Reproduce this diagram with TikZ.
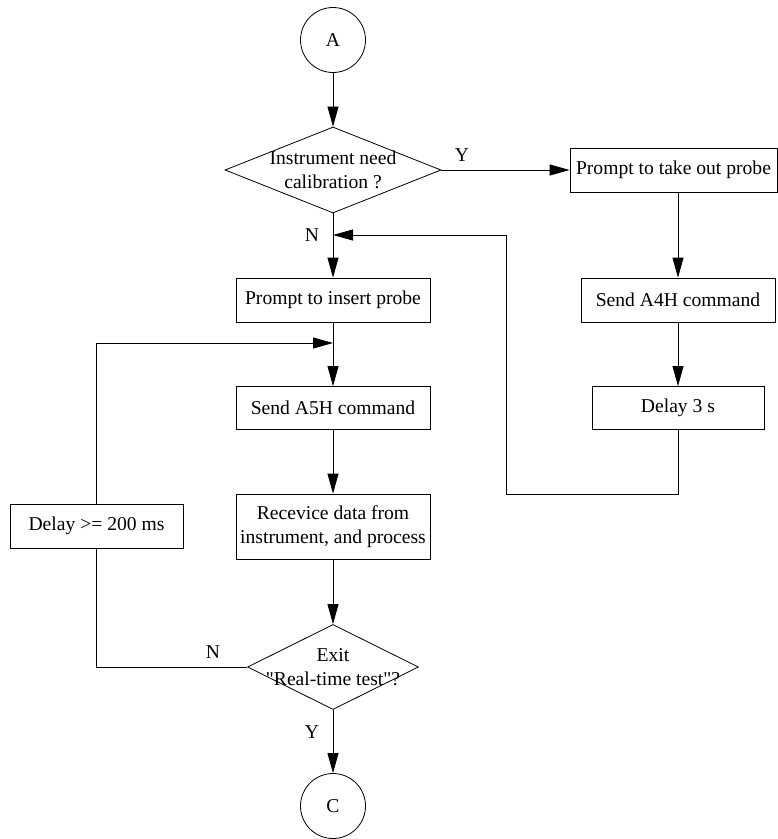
\documentclass[tikz,border=0pt]{standalone}
\usepackage{fontspec}
\setmainfont{Liberation Serif}
\newfontfamily\plainfont{Liberation Serif}
\usetikzlibrary{shapes.geometric,arrows.meta}

\begin{document}
\begin{tikzpicture}[x=1bp, y=-1bp, line width=0.8bp,
  every node/.style={font=\fontsize{19.6bp}{23.5bp}\selectfont},
  box/.style={draw, rectangle, inner sep=0pt, align=center, minimum height=44bp},
  term/.style={draw, circle, inner sep=0pt, minimum size=65bp},
  decision/.style={draw, diamond, inner sep=0pt},
  arr/.style={-{Triangle[length=20bp,width=11bp]}}]

\useasboundingbox (0,0) rectangle (778,839);

% main column
\node[term] (A) at (333,40) {A};
\node[decision, minimum width=216bp, minimum height=86bp] (calib) at (333,170) {};
\node[align=center] (calibtxt) at (calib) {Instrument need\\calibration ?};
\node[box, minimum width=194bp] (insert) at (333,300) {Prompt to insert probe};
\node[box, minimum width=194bp, minimum height=43bp] (sendA5) at (333,408) {Send A5H command};
\node[box, minimum width=194bp, minimum height=65bp] (receive) at (333,526.5) {Recevice data from\\instrument, and process};
\node[decision, minimum width=171bp, minimum height=85bp] (exit) at (333,667) {};
\node[align=center] (exittxt) at (exit) {Exit\\{\plainfont"Real-time test"?}};
\node[term] (C) at (333,806) {C};
\node[box, minimum width=173bp] (wait) at (96.5,526) {Delay >= 200 ms};

% calibration branch
\node[box, minimum width=207bp] (takeout) at (673.5,170) {Prompt to take out probe};
\node[box, minimum width=194bp] (sendA4) at (678,300) {Send A4H command};
\node[box, minimum width=172bp, minimum height=43bp] (delay) at (678,408) {Delay 3 s};

\node (y1) at (462,155) {Y};
\node (n1) at (312,235) {N};
\node (n2) at (213,652) {N};
\node (y2) at (312,732) {Y};

\coordinate (join1) at (333,235);
\coordinate (join2) at (333,343);

\draw[arr] (A) -- (calib);
\draw[arr] (calib) -- (takeout);
\draw[arr] (calib) -- (insert);
\draw[arr] (takeout.south -| sendA4) -- (sendA4);
\draw[arr] (sendA4) -- (delay);
\draw[arr] (delay.south) |- (506,494) |- (join1);
\draw[arr] (insert) -- (sendA5);
\draw[arr] (sendA5) -- (receive);
\draw[arr] (receive) -- (exit);
\draw[arr] (exit) -- (C);
\draw (exit) -| (wait);
\draw[arr] (wait) |- (join2);
\end{tikzpicture}
\end{document}
